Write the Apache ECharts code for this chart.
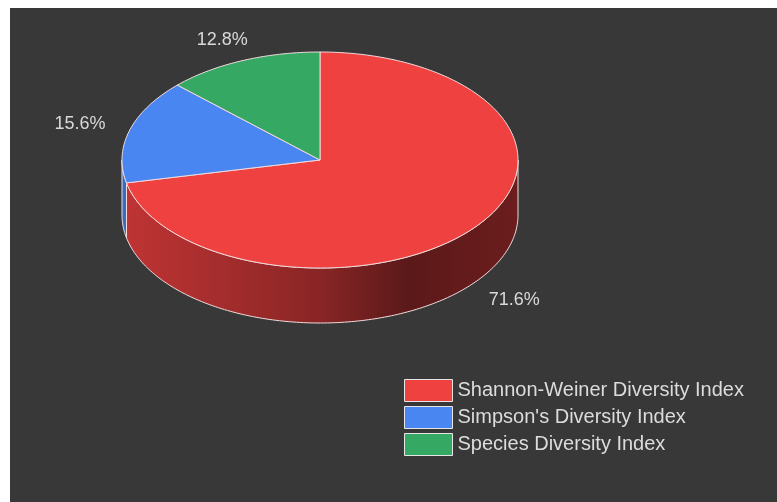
<!DOCTYPE html>
<html>
<head>
<meta charset="utf-8">
<script src="https://cdn.jsdelivr.net/npm/echarts@6/dist/echarts.min.js"></script>
<style>
  html, body { margin: 0; padding: 0; background: #ffffff; }
  #chart { width: 777px; height: 502px; }
</style>
</head>
<body>
<div id="chart"></div>
<script>
// ---- data ----
const categories = ['Shannon-Weiner Diversity Index', "Simpson's Diversity Index", 'Species Diversity Index'];
const values = [71.6, 15.6, 12.8];
const colors = ['#f04141', '#4a86f2', '#35a864'];

// ---- geometry / style ----
const CX = 320, CY = 160, RX = 198, RY = 108, DEPTH = 55;
const STROKE = '#f2dcdc';
const total = values.reduce((a, b) => a + b, 0);

function hexToRgb(h) {
  const n = parseInt(h.slice(1), 16);
  return [(n >> 16) & 255, (n >> 8) & 255, n & 255];
}
function shade(h, k) {
  const c = hexToRgb(h).map(v => Math.round(v * k));
  return 'rgb(' + c.join(',') + ')';
}
function pt(a, dy) {
  return [CX + RX * Math.sin(a), CY - RY * Math.cos(a) + (dy || 0)];
}
function arc(a0, a1, dy) {
  const n = Math.max(2, Math.ceil((a1 - a0) / (Math.PI / 180)));
  const out = [];
  for (let k = 0; k <= n; k++) out.push(pt(a0 + (a1 - a0) * k / n, dy));
  return out;
}

function renderItem(params, api) {
  const i = params.dataIndex;
  let start = 0;
  for (let j = 0; j < i; j++) start += values[j];
  const v = api.value(0);
  const a0 = start / total * Math.PI * 2;
  const a1 = (start + v) / total * Math.PI * 2;
  const color = colors[i];
  const children = [];

  // front outer wall (visible between 90deg and 270deg)
  const w0 = Math.max(a0, Math.PI / 2), w1 = Math.min(a1, Math.PI * 3 / 2);
  if (w1 > w0) {
    const topArc = arc(w0, w1, 0);
    const botArc = arc(w0, w1, DEPTH).reverse();
    children.push({
      type: 'polygon',
      z2: 1,
      shape: { points: topArc.concat(botArc) },
      style: {
        fill: {
          type: 'linear', x: CX - RX, y: 0, x2: CX + RX, y2: 0, global: true,
          colorStops: [
            { offset: 0, color: shade(color, 0.8) },
            { offset: 0.5, color: shade(color, 0.57) },
            { offset: 0.72, color: shade(color, 0.38) },
            { offset: 1, color: shade(color, 0.45) }
          ]
        },
        stroke: STROKE, lineWidth: 1
      }
    });
  }

  // top face
  children.push({
    type: 'polygon',
    z2: 10,
    shape: { points: [[CX, CY]].concat(arc(a0, a1, 0)) },
    style: { fill: color, stroke: STROKE, lineWidth: 1 }
  });

  // label
  const am = (a0 + a1) / 2;
  const lx = CX + RX * 1.26 * Math.sin(am);
  let ly = CY - RY * 1.21 * Math.cos(am);
  if (Math.cos(am) < 0) ly += DEPTH + 3;
  children.push({
    type: 'text',
    z2: 20,
    x: lx, y: ly,
    style: {
      text: (v / total * 100).toFixed(1) + '%',
      fill: '#d9d9d9',
      font: '18px "Liberation Sans", Arial, sans-serif',
      align: 'center',
      verticalAlign: 'middle'
    }
  });

  return { type: 'group', children: children };
}

const series = [{
  type: 'custom',
  name: 'pie3d',
  coordinateSystem: 'none',
  renderItem: renderItem,
  data: values.map((v, i) => ({ name: categories[i], value: [v] })),
  silent: true
}];
categories.forEach((c, i) => {
  series.push({
    type: 'custom',
    name: c,
    coordinateSystem: 'none',
    renderItem: function () { return { type: 'group', children: [] }; },
    itemStyle: { color: colors[i] },
    data: []
  });
});

const chart = echarts.init(document.getElementById('chart'), null, { renderer: 'canvas' });
chart.setOption({
  backgroundColor: '#ffffff',
  animation: false,
  graphic: [{
    type: 'rect', z: -10, silent: true,
    shape: { x: 10, y: 8, width: 767, height: 494 },
    style: { fill: '#383838' }
  }],
  legend: {
    data: categories,
    orient: 'vertical',
    left: 404, top: 379,
    padding: 0,
    icon: 'rect',
    itemWidth: 48, itemHeight: 22, itemGap: 4,
    itemStyle: { borderColor: '#e6e6e6', borderWidth: 1 },
    textStyle: { color: '#dcdcdc', fontSize: 20, fontFamily: '"Liberation Sans", Arial, sans-serif' },
    selectedMode: false
  },
  series: series
});
</script>
</body>
</html>
